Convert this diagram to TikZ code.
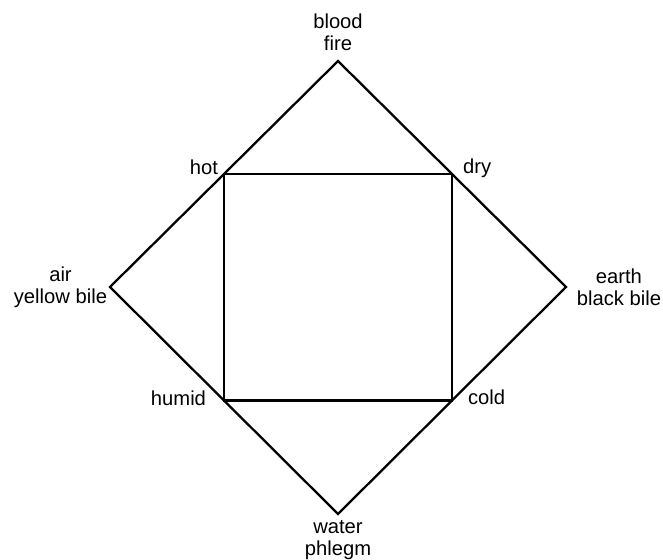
\documentclass[tikz,border=0pt]{standalone}
\usepackage{fontspec}
\setmainfont{Liberation Sans}
\usetikzlibrary{positioning,calc}

\begin{document}
\begin{tikzpicture}[x=0.02cm, y=-0.02cm, line width=1.3pt,
    lab/.style={font=\fontsize{11.5}{12.5}\selectfont, inner sep=0pt, align=center}]
  \useasboundingbox (0,0) rectangle (663,560);
  % outer diamond: the four elements
  \coordinate (fire) at (338,61);
  \coordinate (earth) at (566,287);
  \coordinate (water) at (338,514);
  \coordinate (air) at (110,287);
  \draw (fire) -- (earth) -- (water) -- (air) -- cycle;
  % inner square: the four qualities
  \coordinate (hot) at ($(fire)!0.5!(air)$);
  \coordinate (dry) at ($(fire)!0.5!(earth)$);
  \coordinate (cold) at ($(water)!0.5!(earth)$);
  \coordinate (humid) at ($(water)!0.5!(air)$);
  \draw (hot) -- (dry) -- (cold) -- (humid) -- cycle;
  \node[lab, above=5pt of fire] (fireLab) {blood\\fire};
  \node[lab, left=1pt of air] (airLab) {air\\yellow bile};
  \node[lab, right=5.5pt of earth] (earthLab) {earth\\black bile};
  \node[lab, below=3pt of water] (waterLab) {water\\phlegm};
  \node[lab, anchor=base east, xshift=-2.8pt, yshift=-0.5pt] (hotLab) at (hot) {hot};
  \node[lab, anchor=base west, xshift=5.7pt] (dryLab) at (dry) {dry};
  \node[lab, anchor=base east, xshift=-9.6pt, yshift=-2.8pt] (humidLab) at (humid) {humid};
  \node[lab, anchor=base west, xshift=8.5pt, yshift=-2.3pt] (coldLab) at (cold) {cold};
\end{tikzpicture}
\end{document}
